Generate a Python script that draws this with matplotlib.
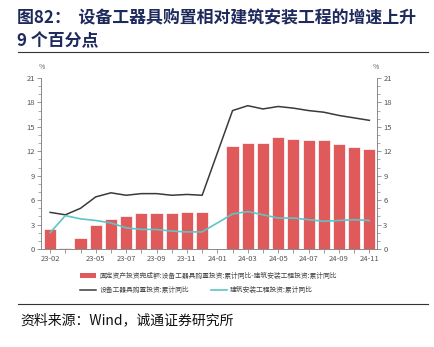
import matplotlib
matplotlib.use("Agg")
import matplotlib.pyplot as plt
import numpy as np
from matplotlib.lines import Line2D
from matplotlib.patches import Patch

plt.rcParams['font.family'] = ['Noto Sans CJK SC', 'DejaVu Sans']

months = ["23-02","23-03","23-04","23-05","23-06","23-07","23-08","23-09","23-10","23-11","23-12",
          "24-01","24-02","24-03","24-04","24-05","24-06","24-07","24-08","24-09","24-10","24-11"]
shown_labels = {"23-02","23-05","23-07","23-09","23-11","24-01","24-03","24-05","24-07","24-09","24-11"}
equip = [4.5, 4.2, 5.0, 6.4, 6.9, 6.6, 6.8, 6.8, 6.6, 6.7, 6.6,
         np.nan, 17.0, 17.6, 17.2, 17.5, 17.3, 17.0, 16.8, 16.4, 16.1, 15.8]
constr = [2.0, 4.1, 3.7, 3.5, 3.2, 2.6, 2.4, 2.4, 2.2, 2.1, 2.1,
          np.nan, 4.3, 4.6, 4.2, 3.8, 3.8, 3.6, 3.4, 3.5, 3.6, 3.5]
diff = [2.5, 0.15, 1.3, 2.9, 3.7, 4.0, 4.4, 4.4, 4.4, 4.6, 4.5,
        np.nan, 12.7, 13.0, 13.0, 13.7, 13.5, 13.4, 13.4, 12.9, 12.5, 12.3]

name_bar = "固定资产投资完成额:设备工器具购置投资:累计同比-建筑安装工程投资:累计同比"
name_eq = "设备工器具购置投资:累计同比"
name_co = "建筑安装工程投资:累计同比"

W, H = 434, 347
fig = plt.figure(figsize=(W/100, H/100), dpi=100)

ax = fig.add_axes([41/W, 1-249/H, (377-41)/W, (249-78)/H])
x = np.arange(len(months))
bar_color = "#E05A5C"
ax.bar(x, diff, width=0.8, color=bar_color, edgecolor="white", linewidth=0.5, zorder=2)

eq = np.array(equip, dtype=float)
co = np.array(constr, dtype=float)
m = ~np.isnan(eq)
ax.plot(x[m], eq[m], color="#3a3a3a", lw=1.1, zorder=3)
m2 = ~np.isnan(co)
ax.plot(x[m2], co[m2], color="#5CC5C8", lw=1.2, zorder=3)

ax.set_xlim(-0.6, 21.5)
ax.set_ylim(0, 21)
ax.set_yticks(np.arange(0, 22, 3))
ax.set_yticks(np.arange(0, 22, 1), minor=True)
ax.set_xticks(x)
ax.set_xticklabels([mm if mm in shown_labels else "" for mm in months])

for s in ["top", "right"]:
    ax.spines[s].set_visible(False)
for s in ["left", "bottom"]:
    ax.spines[s].set_color("#888888")
    ax.spines[s].set_linewidth(0.7)
ax.tick_params(axis='both', which='major', labelsize=5.5, colors="#888888", labelcolor="#555555",
               length=3, width=0.6, pad=1.5)
ax.tick_params(axis='y', which='minor', length=2, width=0.5, colors="#888888")

ax2 = ax.twinx()
ax2.set_ylim(0, 21)
ax2.set_yticks(np.arange(0, 22, 3))
ax2.set_yticks(np.arange(0, 22, 1), minor=True)
for s in ["top", "left", "bottom"]:
    ax2.spines[s].set_visible(False)
ax2.spines["right"].set_color("#888888")
ax2.spines["right"].set_linewidth(0.7)
ax2.tick_params(axis='y', which='major', labelsize=5.5, colors="#888888", labelcolor="#555555",
                length=3, width=0.6, pad=1.5)
ax2.tick_params(axis='y', which='minor', length=2, width=0.5, colors="#888888")

fig.text(42/W, 1-67/H, "%", fontsize=5, color="#666666", ha="center", va="center")
fig.text(376/W, 1-67/H, "%", fontsize=5, color="#666666", ha="center", va="center")

# legends
h_bar = Patch(facecolor=bar_color, edgecolor="none")
leg1 = fig.legend([h_bar], [name_bar], loc="center left", bbox_to_anchor=(80/W, 1-276/H),
                  frameon=False, fontsize=4.9, handlelength=2.4, handleheight=0.9,
                  handletextpad=0.45, borderaxespad=0, borderpad=0)
for t in leg1.get_texts():
    t.set_color("#444444")
h_eq = Line2D([], [], color="#3a3a3a", lw=1.1)
h_co = Line2D([], [], color="#5CC5C8", lw=1.2)
leg2 = fig.legend([h_eq, h_co], [name_eq, name_co], loc="center left", bbox_to_anchor=(80/W, 1-290/H),
                  frameon=False, fontsize=4.9, ncol=2, handlelength=2.4, handletextpad=0.45,
                  columnspacing=3.2, borderaxespad=0, borderpad=0)
for t in leg2.get_texts():
    t.set_color("#444444")

title_color = "#1F2A5C"
fig.text(17/W, 1-18/H, "图82：  设备工器具购置相对建筑安装工程的增速上升", fontsize=12.2,
         fontweight="bold", color=title_color, ha="left", va="center")
fig.text(17/W, 1-41/H, "9 个百分点", fontsize=12.2, fontweight="bold", color=title_color,
         ha="left", va="center")
fig.add_artist(Line2D([18/W, 428/W], [1-52/H, 1-52/H], color="#333333", lw=0.8))
fig.add_artist(Line2D([18/W, 428/W], [1-304/H, 1-304/H], color="#333333", lw=0.8))
fig.text(20/W, 1-320/H, "资料来源：Wind，诚通证券研究所", fontsize=10, color="#111111",
         ha="left", va="center")

fig.savefig("out.png", dpi=100)
